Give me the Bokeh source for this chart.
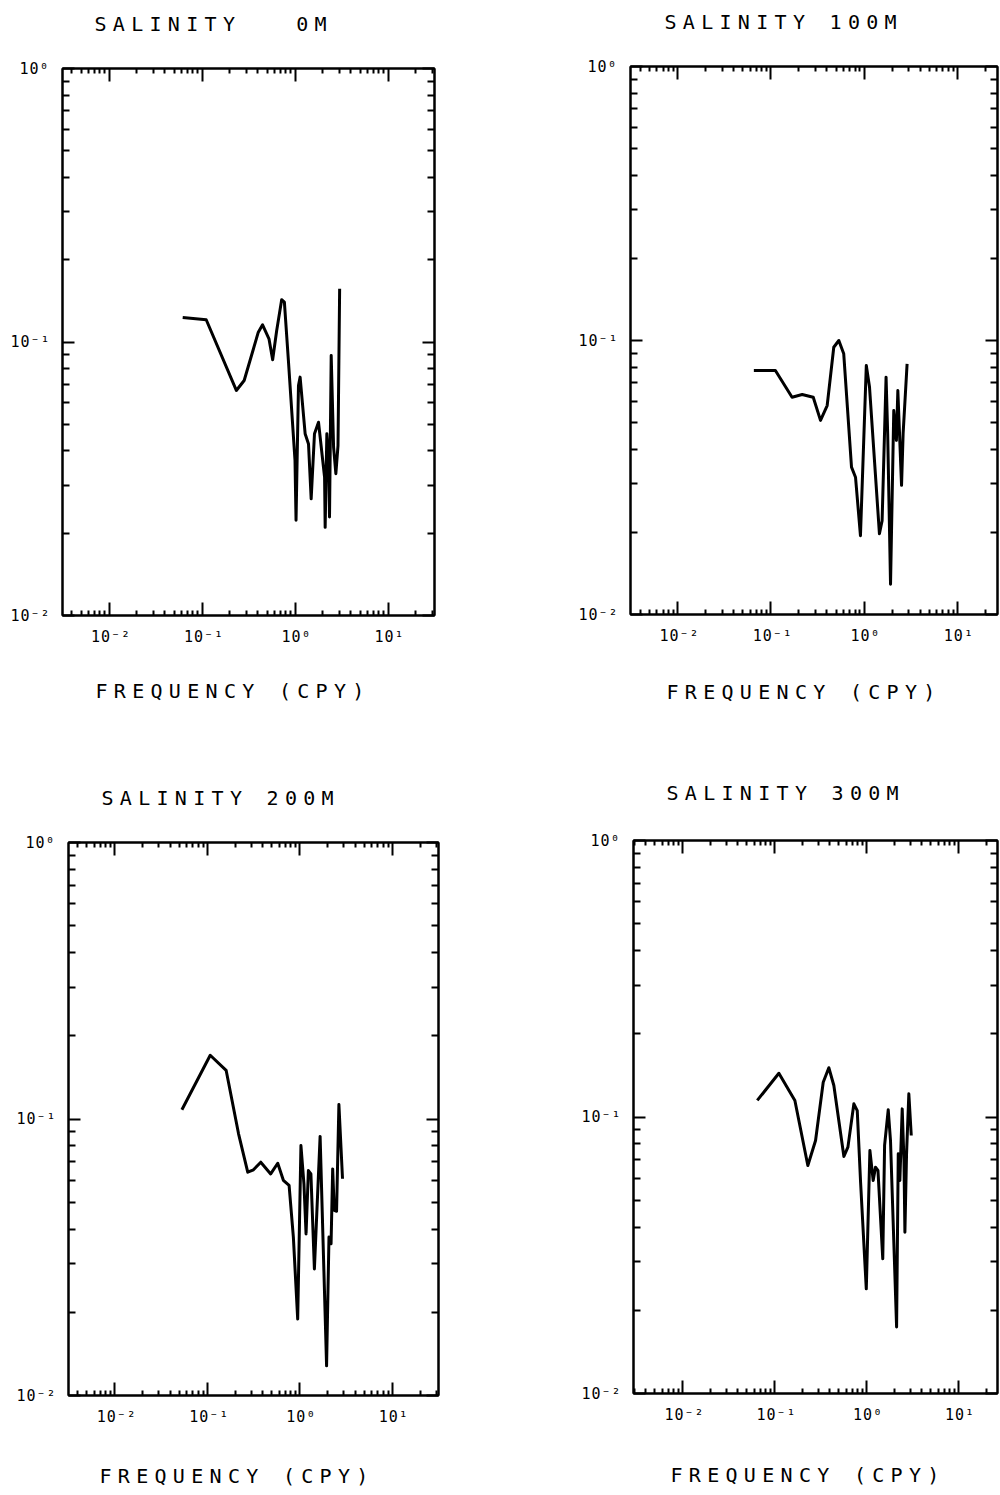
from bokeh.plotting import figure
from bokeh.layouts import column, row
from bokeh.models import FixedTicker, LogAxis, Title, Range1d, InlineStyleSheet, BasicTickFormatter
from bokeh.embed import file_html
from bokeh.resources import INLINE

# ---------------- data ----------------
NB = "\u00a0"
titles = ["SALINITY" + NB * 3 + "0M", "SALINITY 100M", "SALINITY 200M", "SALINITY 300M"]
x_label = "FREQUENCY (CPY)"

freq_0m = [0.062, 0.111, 0.234, 0.284, 0.403, 0.448, 0.525, 0.575, 0.635, 0.719, 0.769,
           0.849, 1.0, 1.026, 1.09, 1.135, 1.285, 1.397, 1.492, 1.62, 1.79, 2.08, 2.11,
           2.20, 2.30, 2.35, 2.45, 2.60, 2.75, 2.90, 3.02]
sal_0m = [0.123, 0.1206, 0.0665, 0.0723, 0.1086, 0.1156, 0.1027, 0.0861, 0.110, 0.1427, 0.140,
          0.0856, 0.0369, 0.0223, 0.0693, 0.0744, 0.0462, 0.0424, 0.0267, 0.0462, 0.0509, 0.0320,
          0.0210, 0.0462, 0.0379, 0.0229, 0.0893, 0.0412, 0.033, 0.0418, 0.1565]

freq_100m = [0.0658, 0.112, 0.169, 0.217, 0.285, 0.341, 0.402, 0.473, 0.536, 0.605, 0.733,
             0.809, 0.914, 1.056, 1.143, 1.46, 1.56, 1.72, 1.79, 1.92, 2.08, 2.22, 2.30,
             2.39, 2.52, 2.62, 2.89]
sal_100m = [0.0777, 0.0777, 0.0621, 0.0635, 0.0621, 0.0511, 0.0579, 0.0945, 0.100, 0.0894, 0.0345,
            0.0317, 0.0194, 0.081, 0.0676, 0.0197, 0.0220, 0.0735, 0.0457, 0.0129, 0.0555, 0.0432,
            0.0657, 0.047, 0.0296, 0.0457, 0.0822]

freq_200m = [0.0532, 0.1077, 0.160, 0.218, 0.274, 0.316, 0.379, 0.485, 0.578, 0.665, 0.767,
             0.853, 0.95, 1.03, 1.11, 1.17, 1.24, 1.32, 1.44, 1.66, 1.95, 2.07, 2.18, 2.27,
             2.36, 2.50, 2.65, 2.90]
sal_200m = [0.108, 0.170, 0.150, 0.0884, 0.0642, 0.0655, 0.0698, 0.0633, 0.0692, 0.060, 0.0575,
            0.0374, 0.0189, 0.0802, 0.0583, 0.0384, 0.0651, 0.0633, 0.0287, 0.0865, 0.0128, 0.0374,
            0.0354, 0.066, 0.0467, 0.0464, 0.1128, 0.0608]

freq_300m = [0.0649, 0.1114, 0.1663, 0.230, 0.279, 0.338, 0.389, 0.441, 0.567, 0.627, 0.728,
             0.792, 0.861, 0.993, 1.087, 1.18, 1.25, 1.33, 1.50, 1.57, 1.72, 1.82, 2.12, 2.21,
             2.30, 2.44, 2.55, 2.61, 2.72, 2.88, 3.06]
sal_300m = [0.1148, 0.144, 0.1148, 0.0668, 0.0822, 0.1336, 0.1507, 0.130, 0.072, 0.0778, 0.1116,
            0.1055, 0.0581, 0.0239, 0.0757, 0.0589, 0.0658, 0.0641, 0.0307, 0.0789, 0.1062, 0.0822,
            0.0174, 0.0736, 0.0589, 0.107, 0.0696, 0.0383, 0.0736, 0.1213, 0.0857]

x_tick_values = [0.01, 0.1, 1, 10]
x_tick_labels = ["10\u207b\u00b2", "10\u207b\u00b9", "10\u2070", "10\u00b9"]
y_tick_values = [0.01, 0.1, 1]
y_tick_labels = ["10\u207b\u00b2", "10\u207b\u00b9", "10\u2070"]
minor_mult = [2, 3, 4, 5, 6, 7, 8, 9]
x_decades = [0.001, 0.01, 0.1, 1, 10]
y_decades = [0.001, 0.01, 0.1, 1]

FONT = "DejaVu Sans Mono"
WIDE_CSS = ":host { letter-spacing: 6.3px; }"
TICK_CSS = ":host { letter-spacing: 1px; }"


def style_axis(ax, ticks, minor, labels, tick_in, minor_in):
    ax.ticker = FixedTicker(ticks=ticks, minor_ticks=minor)
    ax.formatter = BasicTickFormatter()
    ax.major_label_overrides = dict(zip(ticks, labels))
    ax.major_tick_in = tick_in
    ax.major_tick_out = 0
    ax.minor_tick_in = minor_in
    ax.minor_tick_out = 0
    ax.axis_line_width = 2
    ax.axis_line_color = "black"
    ax.major_tick_line_width = 2
    ax.minor_tick_line_width = 2
    ax.major_tick_line_color = "black"
    ax.minor_tick_line_color = "black"
    ax.major_label_text_font = FONT
    ax.major_label_text_font_size = "15px"
    ax.major_label_text_color = "black"


def text_strip(text, height, offset, pad_top):
    """A blank strip that only carries a real text line (title or axis caption).
    Its frame is aligned with the panel frame below/above it, so the offset is
    measured from the panel's left frame edge."""
    s = figure(width=500, height=height, x_range=Range1d(0, 1), y_range=Range1d(0, 1),
               output_backend="svg", toolbar_location=None,
               x_axis_location=None, y_axis_location=None,
               min_border_left=0, min_border_right=0, min_border_top=pad_top, min_border_bottom=0,
               stylesheets=[InlineStyleSheet(css=WIDE_CSS)])
    s.outline_line_color = None
    s.background_fill_color = "white"
    s.border_fill_color = "white"
    s.grid.visible = False
    t = Title(text=text, align="left", offset=offset, text_font=FONT,
              text_font_size="20px", text_font_style="normal", text_color="black", standoff=0)
    s.add_layout(t, "above")
    return s


def make_panel(freq, sal, height, bl, br, bt, bb, xr):
    p = figure(width=500, height=height, x_axis_type="log", y_axis_type="log",
               x_range=Range1d(*xr), y_range=Range1d(0.01, 1.0),
               output_backend="svg", toolbar_location=None,
               min_border_left=bl, min_border_right=br, min_border_top=bt, min_border_bottom=bb,
               stylesheets=[InlineStyleSheet(css=TICK_CSS)])
    p.background_fill_color = "white"
    p.border_fill_color = "white"
    p.outline_line_color = "black"
    p.outline_line_width = 2
    p.xgrid.visible = False
    p.ygrid.visible = False

    x_minor = [m * d for d in x_decades for m in minor_mult]
    y_minor = [m * d for d in y_decades for m in minor_mult]

    top = LogAxis()
    right = LogAxis()
    p.add_layout(top, "above")
    p.add_layout(right, "right")

    bottom = p.below[0]
    left = p.left[0]
    style_axis(bottom, x_tick_values, x_minor, x_tick_labels, 13, 5)
    style_axis(top, x_tick_values, x_minor, ["" for _ in x_tick_values], 13, 5)
    style_axis(left, y_tick_values, y_minor, y_tick_labels, 12, 7)
    style_axis(right, y_tick_values, y_minor, ["" for _ in y_tick_values], 12, 7)
    bottom.major_label_standoff = 12
    left.major_label_standoff = 16
    top.major_label_standoff = 0
    right.major_label_standoff = 0

    p.line(freq, sal, line_width=3, line_color="black", line_join="round")
    return p


# top row: strip 0-45, panel 45-665, caption 665-760
t1 = text_strip(titles[0], 45, 32, 35)
p1 = make_panel(freq_0m, sal_0m, 620, 62, 66, 23, 50, (10 ** -2.5, 10 ** 1.5))
x1 = text_strip(x_label, 95, 33, 37)

t2 = text_strip(titles[1], 45, 34, 33)
p2 = make_panel(freq_100m, sal_100m, 620, 130, 3, 21, 51, (10 ** -2.504, 10 ** 1.43))
x2 = text_strip(x_label, 95, 36, 38)

# bottom row: strip 760-820, panel 820-1450, caption 1450-1495
t3 = text_strip(titles[2], 60, 33, 49)
p3 = make_panel(freq_200m, sal_200m, 630, 68, 62, 22, 55, (10 ** -2.5, 10 ** 1.5))
x3 = text_strip(x_label, 45, 31, 37)

t4 = text_strip(titles[3], 60, 33, 44)
p4 = make_panel(freq_300m, sal_300m, 630, 133, 3, 20, 57, (10 ** -2.533, 10 ** 1.423))
x4 = text_strip(x_label, 45, 37, 36)

layout = column(row(column(t1, p1, x1), column(t2, p2, x2)),
                row(column(t3, p3, x3), column(t4, p4, x4)))
open("out.html", "w").write(file_html(layout, INLINE))
